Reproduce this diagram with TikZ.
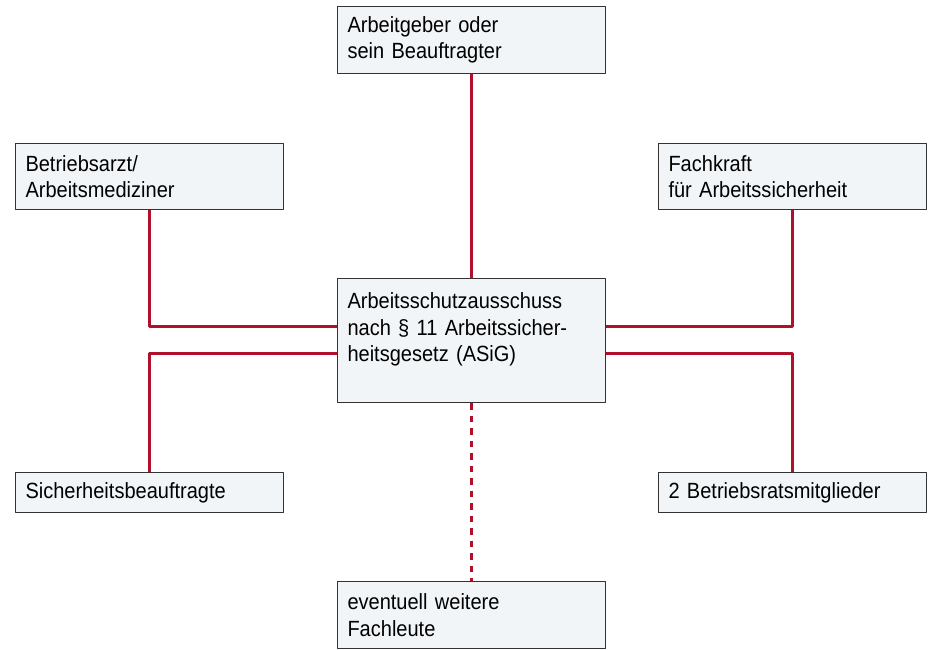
\documentclass[tikz,border=0pt]{standalone}
\usepackage{fontspec}
\setmainfont[FakeStretch=0.91]{Liberation Sans}
\definecolor{boxfill}{HTML}{F1F5F8}
\definecolor{boxline}{HTML}{333333}
\definecolor{linkred}{HTML}{B0102C}
\begin{document}
\begin{tikzpicture}[x=1pt,y=-1pt,line join=round,
	box/.style={draw=boxline,line width=1pt,fill=boxfill,anchor=north west,minimum width=268pt,
		inner xsep=10pt,text width=248pt,align=left,font=\fontsize{22}{26.5}\selectfont},
	link/.style={draw=linkred,line width=2.7pt}]
	\useasboundingbox (0,0) rectangle (930,649);
	% boxes
	\node[box,minimum height=67pt] (chef) at (337,6) {Arbeitgeber oder\\sein Beauftragter};
	\node[box,minimum height=66pt] (arzt) at (15,143) {Betriebsarzt/\\Arbeitsmediziner};
	\node[box,minimum height=66pt] (fasi) at (658,143) {Fachkraft\\für Arbeitssicherheit};
	\node[box,minimum height=124pt] (asa) at (337,278) {Arbeitsschutzausschuss\\nach § 11 Arbeitssicher-\\heitsgesetz (ASiG)\\ \mbox{}};
	\node[box,minimum height=40pt] (sibe) at (15,472) {Sicherheitsbeauftragte};
	\node[box,minimum height=40pt] (br) at (658,472) {2 Betriebsratsmitglieder};
	\node[box,minimum height=67pt] (weitere) at (337,581) {eventuell weitere\\Fachleute};
	% connectors
	\draw[link] (chef.south) -- (asa.north);
	\draw[link] (arzt.south) |- ([yshift=14pt]asa.west);
	\draw[link] (sibe.north) |- ([yshift=-13pt]asa.west);
	\draw[link] (fasi.south) |- ([yshift=14pt]asa.east);
	\draw[link] (br.north) |- ([yshift=-13pt]asa.east);
	\draw[link,dash pattern=on 6.5pt off 6pt] (asa.south) -- (weitere.north);
\end{tikzpicture}
\end{document}
